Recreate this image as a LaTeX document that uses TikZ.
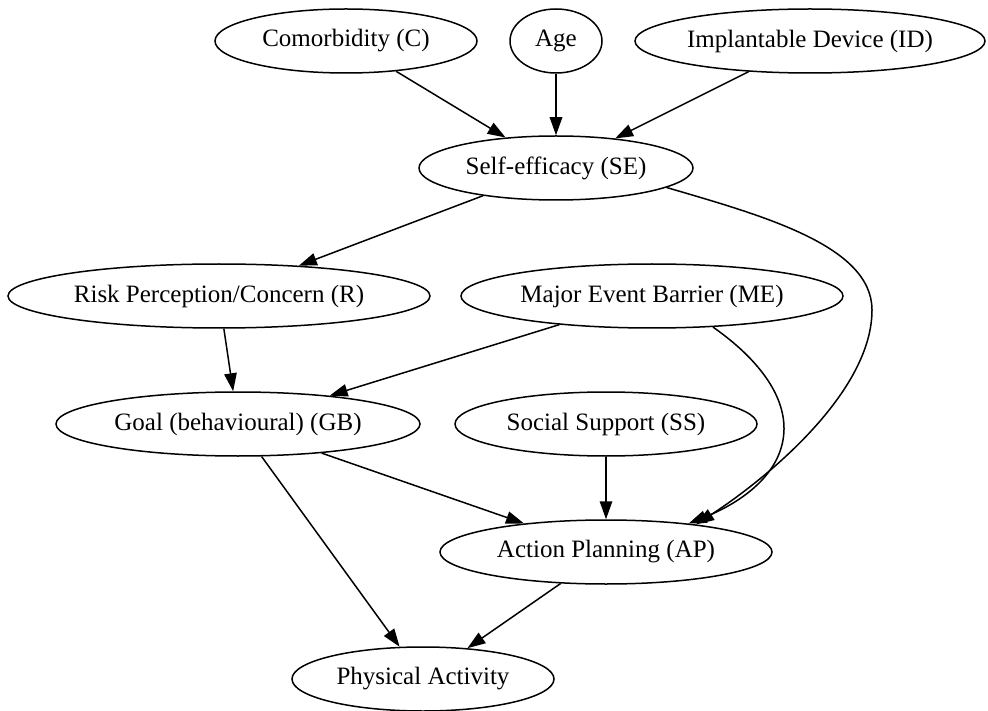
\documentclass[tikz,border=0pt]{standalone}
\usepackage{fontspec}
\setmainfont{Liberation Serif}
\usetikzlibrary{shapes.geometric,arrows.meta}
\begin{document}
\begin{tikzpicture}[x=1pt,y=-1pt,
  state/.style={ellipse,draw,line width=1.5pt,inner sep=0pt,minimum height=64pt,
    font=\fontsize{25}{30}\selectfont},
  link/.style={line width=1.5pt,-{Triangle[length=18pt,width=12.5pt]}}]
\useasboundingbox (0,0) rectangle (988,711);
% factors
\node[state,minimum width=262pt] (c)   at (346,41)  {Comorbidity (C)};
\node[state,minimum width=92pt]  (age) at (556,41)  {Age};
\node[state,minimum width=350pt] (id)  at (810,41)  {Implantable Device (ID)};
\node[state,minimum width=274pt] (se)  at (556,168) {Self-efficacy (SE)};
\node[state,minimum width=422pt] (r)   at (219,296) {Risk Perception/Concern (R)};
\node[state,minimum width=382pt] (me)  at (652,296) {Major Event Barrier (ME)};
\node[state,minimum width=364pt] (gb)  at (238,424) {Goal (behavioural) (GB)};
\node[state,minimum width=302pt] (ss)  at (606,424) {Social Support (SS)};
\node[state,minimum width=332pt] (ap)  at (606,552) {Action Planning (AP)};
\node[state,minimum width=262pt] (pa)  at (423,679) {Physical Activity};
% influences
\draw[link] (c) -- (se);
\draw[link] (age) -- (se);
\draw[link] (id) -- (se);
\draw[link] (se) -- (r);
\draw[link] (se.-10) .. controls (760,215) and (872,245) .. (872,310)
  .. controls (872,390) and (772,475) .. (ap.17);
\draw[link] (r) -- (gb);
\draw[link] (me) -- (gb);
\draw[link] (me.-27) .. controls (760,360) and (790,400) .. (783,440)
  .. controls (776,480) and (735,505) .. (ap.19);
\draw[link] (gb) -- (ap);
\draw[link] (ss) -- (ap);
\draw[link] (gb) -- (pa);
\draw[link] (ap) -- (pa);
\end{tikzpicture}
\end{document}
